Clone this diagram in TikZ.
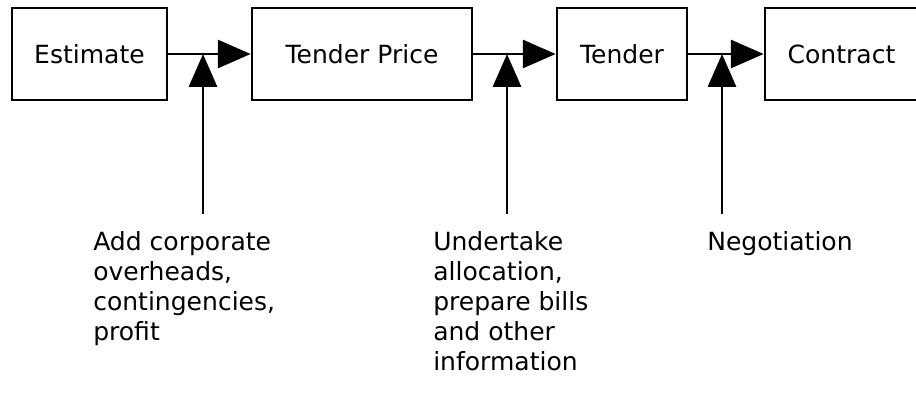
\documentclass[tikz,border=0pt]{standalone}
\usepackage{fontspec}
\setmainfont{DejaVu Sans}
\usetikzlibrary{arrows.meta,positioning}

\begin{document}
\begin{tikzpicture}[font=\fontsize{17.8}{21.3}\selectfont, >={Triangle[length=8.2mm,width=7mm]},
  stage/.style={draw, line width=1.9pt, minimum height=23mm, align=center},
  note/.style={anchor=north west, inner sep=0pt, align=left},
  line/.style={->, line width=1.9pt}]
\clip (0,0) rectangle (22.9,9.8);

\node[stage, minimum width=38.75mm] (est) at (2.2375,8.45) {Estimate};
\node[stage, minimum width=55mm] (price) at (9.05,8.45) {Tender Price};
\node[stage, minimum width=32.5mm] (tender) at (15.55,8.45) {Tender};
\node[stage, minimum width=38.25mm] (contract) at (21.0375,8.45) {Contract};

\node[note] (markup) at (2.325,4.025) {Add corporate\\overheads,\\contingencies,\\profit};
\node[note] (bills) at (10.825,4.025) {Undertake\\allocation,\\prepare bills\\and other\\information};
\node[note] (negot) at (17.675,4.025) {Negotiation};

\coordinate (in1) at (5.075,4.45);
\coordinate (in2) at (12.675,4.45);
\coordinate (in3) at (18.05,4.45);

\draw[line] (est) -- (price);
\draw[line] (price) -- (tender);
\draw[line] (tender) -- (contract);
\draw[line] (in1) -- (in1 |- est.east);
\draw[line] (in2) -- (in2 |- est.east);
\draw[line] (in3) -- (in3 |- est.east);
\end{tikzpicture}
\end{document}
